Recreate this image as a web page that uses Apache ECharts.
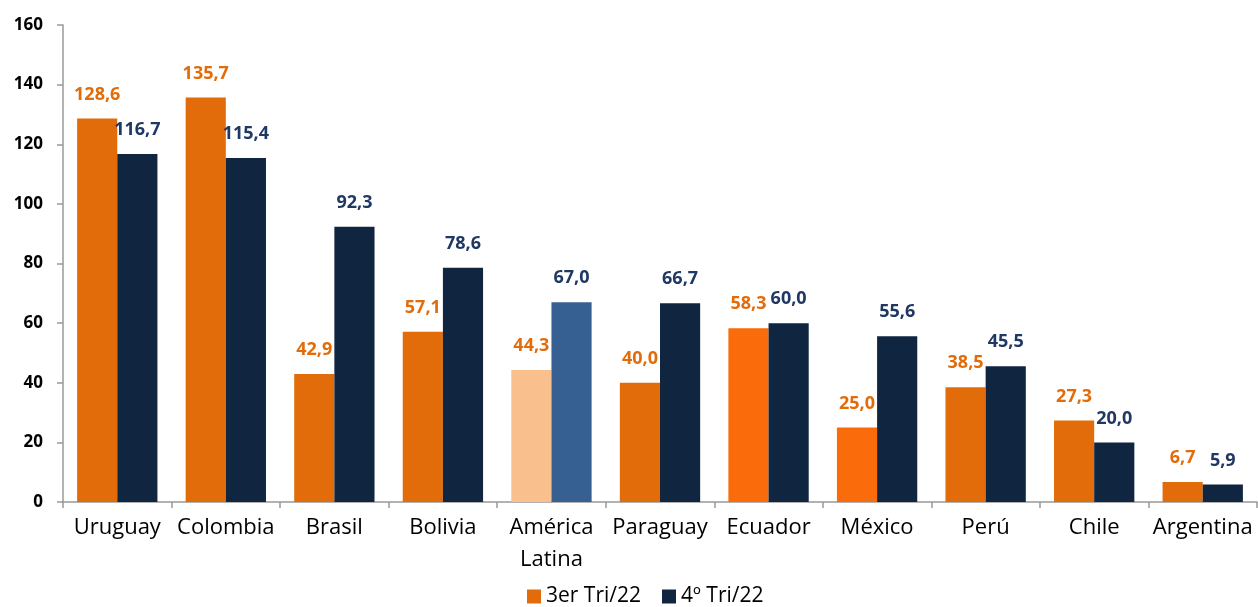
<!DOCTYPE html>
<html><head><meta charset="utf-8">
<script src="https://cdn.jsdelivr.net/npm/echarts@6/dist/echarts.min.js"></script>
<style>html,body{margin:0;padding:0;background:#fff}#c{width:1258px;height:607px}</style>
</head><body><div id="c"></div>
<script>
const categories = ['Uruguay','Colombia','Brasil','Bolivia','América\nLatina','Paraguay','Ecuador','México','Perú','Chile','Argentina'];
const q3 = [128.6,135.7,42.9,57.1,44.3,40.0,58.3,25.0,38.5,27.3,6.7];
const q4 = [116.7,115.4,92.3,78.6,67.0,66.7,60.0,55.6,45.5,20.0,5.9];
const yTicks = [0,20,40,60,80,100,120,140,160];
const seriesNames = ['3er Tri/22','4º Tri/22'];

const ORANGE='#E36C0A', ORANGE2='#F96B0B', LIGHTOR='#F9C08E', NAVY='#10253F', BLUE='#366092', NAVYTXT='#1F3864';
const font = '"Open Sans", sans-serif';
function q3Color(i){ if(i===4) return LIGHTOR; if(i===6||i===7) return ORANGE2; return ORANGE; }
function q4Color(i){ return i===4 ? BLUE : NAVY; }

const chart = echarts.init(document.getElementById('c'));
chart.setOption({
  animation:false,
  textStyle:{fontFamily:font},
  grid:{left:63,right:1,top:25,bottom:105,containLabel:false},
  legend:{top:586,left:527,itemWidth:14,itemHeight:14,itemGap:21,icon:'rect',padding:0,
    textStyle:{fontSize:21,color:'#000',fontFamily:font}},
  xAxis:{type:'category',data:categories,
    axisLine:{lineStyle:{color:'#999',width:1.5}},
    axisTick:{show:true,length:6,lineStyle:{color:'#999',width:1.5}},
    axisLabel:{fontSize:22,color:'#000',margin:10,lineHeight:32,interval:0,fontFamily:font}},
  yAxis:{type:'value',min:yTicks[0],max:yTicks[yTicks.length-1],interval:20,
    axisLine:{show:true,lineStyle:{color:'#999',width:1.5}},
    axisTick:{show:true,length:6,lineStyle:{color:'#999',width:1.5}},
    splitLine:{show:false},
    axisLabel:{fontSize:17,fontWeight:'bold',color:'#000',margin:20,fontFamily:font}},
  series:[
    {name:seriesNames[0],type:'bar',barGap:'0%',barCategoryGap:'26%',
     itemStyle:{color:ORANGE},
     data:q3.map((v,i)=>({value:v,itemStyle:{color:q3Color(i)}})),
     label:{show:true,position:'top',distance:15,fontSize:18,fontWeight:'bold',color:ORANGE,fontFamily:font,
       formatter:p=>p.value.toFixed(1).replace('.',',')}},
    {name:seriesNames[1],type:'bar',
     itemStyle:{color:NAVY},
     data:q4.map((v,i)=>({value:v,itemStyle:{color:q4Color(i)}})),
     label:{show:true,position:'top',distance:15,fontSize:18,fontWeight:'bold',color:NAVYTXT,fontFamily:font,
       formatter:p=>p.value.toFixed(1).replace('.',',')}}
  ]
});
</script></body></html>
